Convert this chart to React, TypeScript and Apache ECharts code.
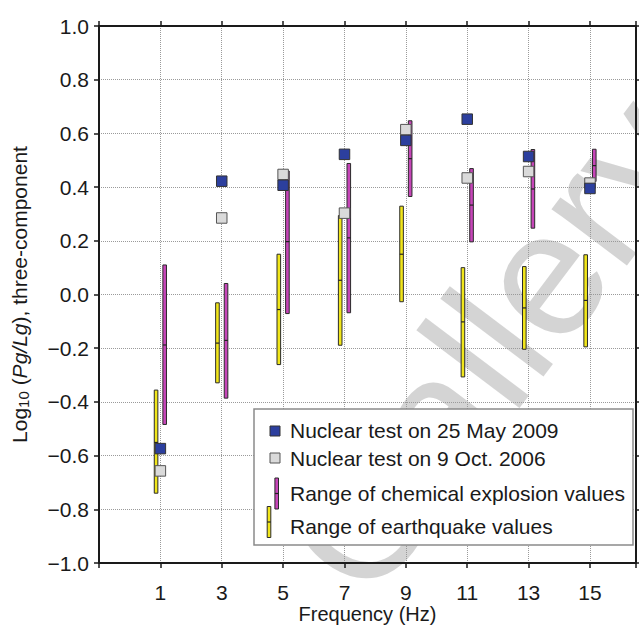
import React, { useEffect, useRef } from 'react';
import * as echarts from 'echarts';

// ---- data ----
const frequencies = [1, 3, 5, 7, 9, 11, 13, 15];
const xTickLabels = ['1', '3', '5', '7', '9', '11', '13', '15'];
const yTickValues = [-1.0, -0.8, -0.6, -0.4, -0.2, 0.0, 0.2, 0.4, 0.6, 0.8, 1.0];

const may2009 = [-0.574, 0.422, 0.407, 0.522, 0.574, 0.653, 0.514, 0.395];
const oct2006 = [-0.657, 0.285, 0.447, 0.303, 0.614, 0.434, 0.458, 0.415];

const chemLow = [-0.484, -0.386, -0.071, -0.068, 0.365, 0.196, 0.247, 0.421];
const chemMid = [-0.188, -0.171, 0.197, 0.211, 0.506, 0.333, 0.393, 0.48];
const chemHigh = [0.11, 0.041, 0.46, 0.488, 0.647, 0.469, 0.54, 0.541];

const quakeLow = [-0.74, -0.329, -0.261, -0.189, -0.027, -0.307, -0.204, -0.195];
const quakeMid = [-0.551, -0.181, -0.056, 0.053, 0.15, -0.102, -0.05, -0.022];
const quakeHigh = [-0.356, -0.031, 0.15, 0.294, 0.329, 0.1, 0.104, 0.148];

const legendLabels = [
  'Nuclear test on 25 May 2009',
  'Nuclear test on 9 Oct. 2006',
  'Range of chemical explosion values',
  'Range of earthquake values',
];

const FONT = '"Liberation Sans", Arial, Helvetica, sans-serif';
const BLUE = '#2c3f9e';
const GRAY = '#dadada';
const MAGENTA = '#c645b8';
const YELLOW = '#f1e61a';
const INK = '#1a1a1a';

// the x axis is shifted by +1 so that ticks at -1,1,3,...,15 start at a multiple of the interval
const X_SHIFT = 1;

function rangeSeries(name: string, low: number[], mid: number[], high: number[], color: string, dx: number) {
  return {
    type: 'custom',
    name,
    z: 3,
    data: frequencies.map((f, i) => [f + X_SHIFT, low[i], mid[i], high[i]]),
    encode: { x: 0, y: [1, 2, 3] },
    renderItem: (params: any, api: any) => {
      const top = api.coord([api.value(0), api.value(3)]);
      const bot = api.coord([api.value(0), api.value(1)]);
      const m = api.coord([api.value(0), api.value(2)]);
      const w = 3.6;
      const cx = top[0] + dx;
      return {
        type: 'group',
        children: [
          {
            type: 'rect',
            shape: { x: cx - w / 2, y: top[1], width: w, height: bot[1] - top[1] },
            style: { fill: color, stroke: '#2a2a2a', lineWidth: 1 },
          },
          {
            type: 'line',
            shape: { x1: cx - w / 2, y1: m[1], x2: cx + w / 2, y2: m[1] },
            style: { stroke: '#222', lineWidth: 1.2 },
          },
        ],
      };
    },
  };
}

function yFmt(v: number) {
  const r = Math.round(v * 10) / 10;
  const s = Math.abs(r).toFixed(1);
  return r < 0 ? '\u2212' + s : s;
}

function xFmt(v: number) {
  const f = Math.round(v - X_SHIFT);
  const idx = frequencies.indexOf(f);
  return idx >= 0 ? xTickLabels[idx] : '';
}

export default function App() {
  const ref = useRef<HTMLDivElement>(null);

  useEffect(() => {
    if (!ref.current) return;
    const chart = echarts.init(ref.current, undefined, { renderer: 'svg' });

    const axisLine = { show: true, onZero: false, lineStyle: { color: INK, width: 2 } };
    const axisTick = { show: true, inside: false, length: 5, lineStyle: { color: INK, width: 1.5 } };
    const splitLine = { show: true, lineStyle: { type: 'dotted', color: '#9a9a9a', width: 1 } };

    const legendGraphic: any[] = [
      {
        type: 'rect',
        z: 100,
        shape: { x: 254, y: 409, width: 379, height: 136 },
        style: { fill: '#ffffff', stroke: '#8a8a8a', lineWidth: 1.5 },
      },
      {
        type: 'rect',
        z: 101,
        shape: { x: 270, y: 426, width: 10, height: 10 },
        style: { fill: BLUE, stroke: '#333', lineWidth: 1 },
      },
      {
        type: 'rect',
        z: 101,
        shape: { x: 270, y: 453, width: 10, height: 10 },
        style: { fill: GRAY, stroke: '#555', lineWidth: 1 },
      },
      {
        type: 'rect',
        z: 101,
        shape: { x: 274.9, y: 478, width: 3.6, height: 31 },
        style: { fill: MAGENTA, stroke: '#2a2a2a', lineWidth: 1 },
      },
      {
        type: 'line',
        z: 102,
        shape: { x1: 274.9, y1: 493.5, x2: 278.5, y2: 493.5 },
        style: { stroke: '#222', lineWidth: 1.2 },
      },
      {
        type: 'rect',
        z: 101,
        shape: { x: 267.2, y: 506.5, width: 3.6, height: 31 },
        style: { fill: YELLOW, stroke: '#2a2a2a', lineWidth: 1 },
      },
      {
        type: 'line',
        z: 102,
        shape: { x1: 267.2, y1: 522, x2: 270.8, y2: 522 },
        style: { stroke: '#222', lineWidth: 1.2 },
      },
    ];
    const legendY = [430, 458, 493, 526];
    legendLabels.forEach((t, i) => {
      legendGraphic.push({
        type: 'text',
        z: 101,
        x: 290,
        y: legendY[i],
        style: {
          text: t,
          fontSize: 21,
          fontFamily: FONT,
          fill: INK,
          align: 'left',
          verticalAlign: 'middle',
        },
      });
    });

    const watermark = {
      type: 'text',
      z: 0,
      x: 490,
      y: 345,
      rotation: (53 * Math.PI) / 180,
      style: {
        text: 'Gallery',
        fontSize: 178,
        fontFamily: FONT,
        fill: 'rgba(170,170,170,0.5)',
        align: 'center',
        verticalAlign: 'middle',
      },
    };

    chart.setOption({
      animation: false,
      backgroundColor: '#ffffff',
      textStyle: { fontFamily: FONT },
      grid: { left: 99, right: 3, top: 26, bottom: 62, containLabel: false, outerBoundsMode: 'none' },
      xAxis: [
        {
          type: 'value',
          position: 'bottom',
          min: 0,
          max: 17.5,
          interval: 2,
          axisLine,
          axisTick,
          splitLine,
          axisLabel: { formatter: xFmt, fontSize: 21, color: INK, margin: 19, fontFamily: FONT },
          name: 'Frequency (Hz)',
          nameLocation: 'middle',
          nameGap: 41,
          nameMoveOverlap: false,
          nameTextStyle: { fontSize: 20, color: INK, fontFamily: FONT },
        },
        {
          type: 'value',
          position: 'top',
          min: 0,
          max: 17.5,
          interval: 2,
          axisLine,
          axisTick,
          splitLine: { show: false },
          axisLabel: { show: false },
        },
      ],
      yAxis: [
        {
          type: 'value',
          position: 'left',
          min: yTickValues[0],
          max: yTickValues[yTickValues.length - 1],
          interval: 0.2,
          axisLine,
          axisTick,
          splitLine,
          axisLabel: { formatter: yFmt, fontSize: 21, color: INK, margin: 10, fontFamily: FONT },
          name: 'Log{sub|10} ({it|Pg/Lg}), three-component',
          nameLocation: 'middle',
          nameGap: 68,
          nameMoveOverlap: false,
          nameTextStyle: {
            fontSize: 21,
            color: INK,
            fontFamily: FONT,
            rich: {
              sub: { fontSize: 15, fontFamily: FONT, color: INK, padding: [9, 0, 0, 0] },
              it: { fontSize: 21, fontFamily: FONT, color: INK, fontStyle: 'italic' },
            },
          },
        },
        {
          type: 'value',
          position: 'right',
          min: yTickValues[0],
          max: yTickValues[yTickValues.length - 1],
          interval: 0.2,
          axisLine,
          axisTick,
          splitLine: { show: false },
          axisLabel: { show: false },
        },
      ],
      graphic: { elements: [watermark, ...legendGraphic] },
      series: [
        rangeSeries(legendLabels[3], quakeLow, quakeMid, quakeHigh, YELLOW, -4.3),
        rangeSeries(legendLabels[2], chemLow, chemMid, chemHigh, MAGENTA, 4.3),
        {
          type: 'scatter',
          name: legendLabels[1],
          z: 4,
          symbol: 'rect',
          symbolSize: 10.5,
          data: frequencies.map((f, i) => [f + X_SHIFT, oct2006[i]]),
          itemStyle: { color: GRAY, borderColor: '#555', borderWidth: 1, opacity: 1 },
        },
        {
          type: 'scatter',
          name: legendLabels[0],
          z: 5,
          symbol: 'rect',
          symbolSize: 10.5,
          data: frequencies.map((f, i) => [f + X_SHIFT, may2009[i]]),
          itemStyle: { color: BLUE, borderColor: '#333', borderWidth: 1, opacity: 1 },
        },
      ],
    });

    return () => chart.dispose();
  }, []);

  return (
    <div
      ref={ref}
      style={{ position: 'fixed', left: 0, top: 0, width: 639, height: 625, background: '#fff' }}
    />
  );
}
